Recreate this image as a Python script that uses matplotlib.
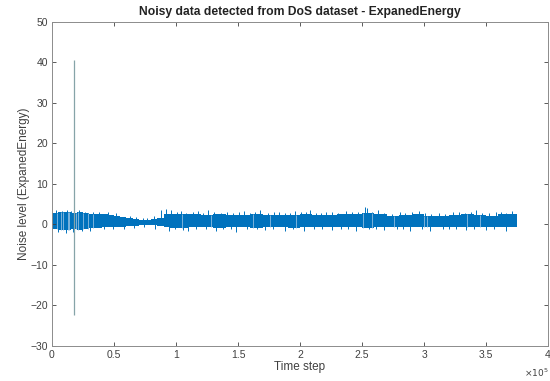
import matplotlib
matplotlib.use("Agg")
import matplotlib.pyplot as plt
import numpy as np

plt.rcParams["font.family"] = ["Liberation Sans", "DejaVu Sans"]

# envelope of the noise band (segment starts in time steps, top/bottom level)
seg_start = [0, 5000, 10000, 15000, 20000, 25000, 30000, 35000, 40000, 45000,
             50000, 55000, 60000, 65000, 70000, 75000, 80000, 85000, 90000, 95000,
             100000, 110000, 120000, 130000, 140000, 150000, 160000, 170000, 180000, 190000,
             200000, 210000, 220000, 230000, 240000, 250000, 260000, 270000, 280000, 290000,
             300000, 310000, 320000, 330000, 340000, 350000, 360000, 370000]
seg_end = 375000
seg_top = [2.7, 2.9, 3.0, 2.8, 2.9, 2.7, 2.6, 2.5, 2.4, 2.3,
           2.1, 1.8, 1.5, 1.3, 1.1, 0.9, 1.2, 1.6, 2.5, 2.6,
           2.5, 2.4, 2.3, 2.4, 2.3, 2.2, 2.4, 2.3, 2.2, 2.3,
           2.5, 2.3, 2.2, 2.4, 2.5, 2.7, 2.4, 2.0, 2.2, 2.4,
           2.1, 2.0, 2.3, 2.4, 2.3, 2.1, 2.4, 2.5]
seg_bot = [-1.2, -1.4, -1.5, -1.3, -1.4, -1.2, -1.0, -0.9, -0.8, -0.8,
           -0.7, -0.6, -0.5, -0.4, -0.3, -0.2, -0.3, -0.5, -0.8, -0.9,
           -0.9, -0.8, -0.8, -0.9, -0.8, -0.8, -0.9, -0.8, -0.8, -0.9,
           -0.8, -0.8, -0.7, -0.8, -0.8, -0.9, -0.8, -0.6, -0.7, -0.8,
           -0.7, -0.6, -0.7, -0.8, -0.8, -0.7, -0.8, -0.8]

# individual excursions above / below the band
up_x = [3000, 8000, 12000, 15000, 22000, 27000, 33000, 38000, 45000, 52000,
        63000, 68000, 73000, 77000, 82000, 88000, 92000, 96000, 101000, 104000,
        108000, 114000, 118000, 122000, 126000, 131000, 136000, 141000, 146000, 151000,
        155000, 160000, 164000, 168000, 174000, 179000, 183000, 188000, 192000, 196000,
        201000, 205000, 208000, 213000, 217000, 221000, 226000, 231000, 237000, 242000,
        247000, 252000, 254000, 258000, 263000, 268000, 274000, 281000, 285000, 290000,
        296000, 301000, 306000, 312000, 317000, 323000, 328000, 333000, 338000, 342000,
        347000, 352000, 358000, 362000, 366000, 371000]
up_y = [3.5, 3.3, 3.6, 3.2, 3.4, 3.1, 3.0, 2.9, 2.9, 2.7,
        2.1, 1.8, 1.6, 1.5, 1.9, 3.6, 3.8, 3.4, 2.9, 3.3,
        2.8, 3.0, 3.2, 2.8, 3.5, 2.9, 2.7, 3.1, 2.8, 2.9,
        3.3, 2.8, 2.9, 3.4, 2.7, 2.9, 3.0, 2.8, 2.7, 3.2,
        2.9, 3.1, 3.5, 2.8, 2.7, 3.1, 2.9, 2.8, 3.3, 2.9,
        3.0, 4.3, 3.9, 3.1, 3.4, 2.8, 2.6, 3.0, 2.7, 2.9,
        3.2, 2.7, 2.6, 2.8, 2.6, 2.9, 3.1, 2.8, 2.9, 3.6,
        2.8, 2.7, 3.0, 2.9, 2.8, 3.3]
dn_x = [5000, 11000, 17000, 24000, 31000, 42000, 49000, 58000, 66000, 74000,
        83000, 94000, 99000, 106000, 110000, 116000, 124000, 132000, 138000, 144000,
        148000, 157000, 165000, 172000, 178000, 188000, 194000, 203000, 211000, 218000,
        226000, 233000, 239000, 245000, 256000, 261000, 268000, 278000, 283000, 289000,
        298000, 305000, 315000, 320000, 326000, 334000, 340000, 350000, 356000, 366000]
dn_y = [-2.0, -2.2, -1.9, -1.8, -1.6, -1.3, -1.2, -1.2, -0.9, -0.8,
        -1.3, -1.8, -1.3, -1.4, -1.7, -1.2, -1.3, -1.6, -1.2, -1.3,
        -1.9, -1.2, -1.3, -1.5, -1.2, -1.8, -1.3, -1.6, -1.2, -1.3,
        -1.4, -1.2, -1.3, -1.7, -1.3, -1.2, -1.5, -1.1, -1.2, -1.6,
        -1.2, -1.8, -1.1, -1.2, -1.3, -1.5, -1.2, -1.4, -1.2, -1.7]

# thin lighter stripes inside the band
gap_x = [4000, 7000, 9000, 13000, 14000, 19000, 21000, 25000, 29000, 33000,
         105000, 128000, 162000, 176000, 197000, 251000, 258000, 276000, 300000, 302000,
         335000, 345000]

# the large outlier
peak_x = 18000
peak_hi = 40.5
peak_lo = -22.5

xtick_vals = [0, 50000, 100000, 150000, 200000, 250000, 300000, 350000, 400000]
xtick_labels = ["0", "0.5", "1", "1.5", "2", "2.5", "3", "3.5", "4"]
ytick_vals = [-30, -20, -10, 0, 10, 20, 30, 40, 50]

blue = "#0072BD"
txt = "#404040"

fig = plt.figure(figsize=(5.5, 3.81), dpi=100)
ax = fig.add_axes([0.0945, 0.093, 0.902, 0.850])

edges = seg_start + [seg_end]
ax.stairs(seg_top, edges, baseline=seg_bot, fill=True, color=blue, lw=0)
ax.vlines(up_x, 0, up_y, color=blue, lw=0.7)
ax.vlines(dn_x, dn_y, 0, color=blue, lw=0.7)

# gap stripes span the band at that point
idx = np.searchsorted(seg_start, gap_x, side="right") - 1
gtop = np.array(seg_top)[idx]
gbot = np.array(seg_bot)[idx]
ax.vlines(gap_x, gbot, gtop, color="#8fbde0", lw=0.6)

ax.vlines([peak_x], peak_lo, peak_hi, color="#86a4a8", lw=0.9)

ax.set_xlim(0, 400000)
ax.set_ylim(-30, 50)
ax.set_xticks(xtick_vals)
ax.set_xticklabels(xtick_labels)
ax.set_yticks(ytick_vals)
ax.tick_params(direction="in", length=3, width=0.6, top=True, right=True,
               labelsize=7.5, colors=txt, pad=3)
for s in ax.spines.values():
    s.set_color("#8c8c8c")
    s.set_linewidth(0.7)

ax.set_title("Noisy data detected from DoS dataset - ExpanedEnergy",
             fontsize=8.7, fontweight="bold", color="#222222", pad=5)
ax.set_xlabel("Time step", fontsize=8.5, color=txt, labelpad=1)
ax.set_ylabel("Noise level (ExpanedEnergy)", fontsize=8.5, color=txt, labelpad=0)
ax.text(1.0, -0.083, r"$\times10^{5}$", transform=ax.transAxes,
        ha="right", va="center", fontsize=6.5, color=txt)

fig.savefig("out.png", dpi=100, facecolor="white")
